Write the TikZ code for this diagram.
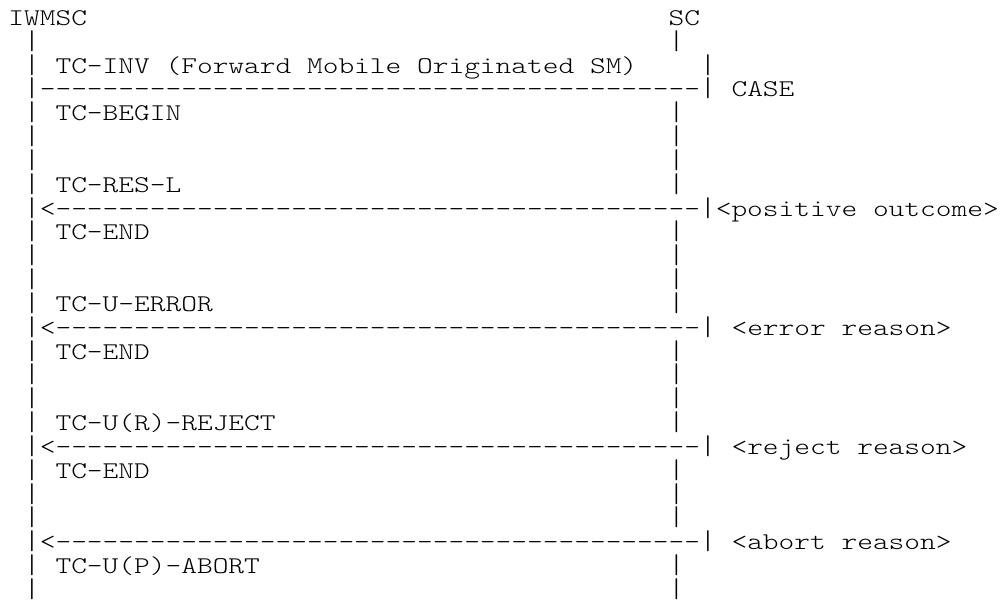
\documentclass[tikz,border=0pt]{standalone}
\usepackage{graphicx}
\ExplSyntaxOn
\cs_new:Npn \asciidashes #1 {\prg_replicate:nn {#1} {-\kern0pt}}
\ExplSyntaxOff
\newcommand\asciibar{\smash{\scalebox{1}[1.13]{|}}}
% node at column #2, text row #3
\newcommand\asciiput[4]{\node[txt] (#1) at ({8.4+15.72*#2},{25.5+23.83*(#3-1)}) {\scalebox{1.2476}[1]{#4}};}
\begin{document}
\begin{tikzpicture}[x=1pt,y=-1pt,
  txt/.style={inner sep=0pt,outer sep=0pt,anchor=base west,text=black,
    font=\fontfamily{lmtt}\fontseries{l}\fontshape{n}\fontsize{24}{24}\selectfont}]
\fill[white] (0,0) rectangle (1006,601);
\useasboundingbox (0,0) rectangle (1006,601);
% headers
\asciiput{iwmsc}{0}{1}{IWMSC}
\asciiput{sc}{42}{1}{SC}
% row 2
\asciiput{l2}{1}{2}{\asciibar}
\asciiput{r2}{42}{2}{\asciibar}
% row 3
\asciiput{l3}{1}{3}{\asciibar}
\asciiput{inv}{3}{3}{TC-INV (Forward Mobile Originated SM)}
\asciiput{r3}{44}{3}{\asciibar}
% row 4
\asciiput{m4}{1}{4}{\asciibar\asciidashes{42}\asciibar}
\asciiput{case}{46}{4}{CASE}
% row 5
\asciiput{l5}{1}{5}{\asciibar}
\asciiput{begin}{3}{5}{TC-BEGIN}
\asciiput{r5}{42}{5}{\asciibar}
\asciiput{l6}{1}{6}{\asciibar}
\asciiput{r6}{42}{6}{\asciibar}
\asciiput{l7}{1}{7}{\asciibar}
\asciiput{r7}{42}{7}{\asciibar}
% row 8
\asciiput{l8}{1}{8}{\asciibar}
\asciiput{resl}{3}{8}{TC-RES-L}
\asciiput{r8}{42}{8}{\asciibar}
% row 9
\asciiput{m9}{1}{9}{\asciibar<\asciidashes{41}\asciibar}
\asciiput{pos}{45}{9}{<positive outcome>}
% row 10
\asciiput{l10}{1}{10}{\asciibar}
\asciiput{end1}{3}{10}{TC-END}
\asciiput{r10}{42}{10}{\asciibar}
\asciiput{l11}{1}{11}{\asciibar}
\asciiput{r11}{42}{11}{\asciibar}
\asciiput{l12}{1}{12}{\asciibar}
\asciiput{r12}{42}{12}{\asciibar}
% row 13
\asciiput{l13}{1}{13}{\asciibar}
\asciiput{uerr}{3}{13}{TC-U-ERROR}
\asciiput{r13}{42}{13}{\asciibar}
% row 14
\asciiput{m14}{1}{14}{\asciibar<\asciidashes{41}\asciibar}
\asciiput{err}{46}{14}{<error reason>}
% row 15
\asciiput{l15}{1}{15}{\asciibar}
\asciiput{end2}{3}{15}{TC-END}
\asciiput{r15}{42}{15}{\asciibar}
\asciiput{l16}{1}{16}{\asciibar}
\asciiput{r16}{42}{16}{\asciibar}
\asciiput{l17}{1}{17}{\asciibar}
\asciiput{r17}{42}{17}{\asciibar}
% row 18
\asciiput{l18}{1}{18}{\asciibar}
\asciiput{rrej}{3}{18}{TC-U(R)-REJECT}
\asciiput{r18}{42}{18}{\asciibar}
% row 19
\asciiput{m19}{1}{19}{\asciibar<\asciidashes{41}\asciibar}
\asciiput{rej}{46}{19}{<reject reason>}
% row 20
\asciiput{l20}{1}{20}{\asciibar}
\asciiput{end3}{3}{20}{TC-END}
\asciiput{r20}{42}{20}{\asciibar}
\asciiput{l21}{1}{21}{\asciibar}
\asciiput{r21}{42}{21}{\asciibar}
\asciiput{l22}{1}{22}{\asciibar}
\asciiput{r22}{42}{22}{\asciibar}
% row 23
\asciiput{m23}{1}{23}{\asciibar<\asciidashes{41}\asciibar}
\asciiput{abt}{46}{23}{<abort reason>}
% row 24
\asciiput{l24}{1}{24}{\asciibar}
\asciiput{pabort}{3}{24}{TC-U(P)-ABORT}
\asciiput{r24}{42}{24}{\asciibar}
% row 25
\asciiput{l25}{1}{25}{\asciibar}
\asciiput{r25}{42}{25}{\asciibar}
\end{tikzpicture}
\end{document}
